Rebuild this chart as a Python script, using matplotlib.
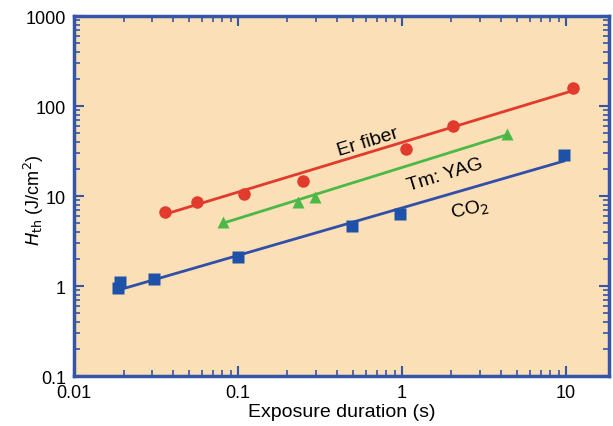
import numpy as np
import matplotlib.pyplot as plt
from matplotlib.ticker import LogLocator, NullFormatter, FixedLocator, FixedFormatter

# data (exposure duration in s, threshold in J/cm^2)
er_x = [0.036, 0.056, 0.109, 0.25, 1.05, 2.04, 11.0]
er_y = [6.6, 8.5, 10.5, 14.8, 33, 60, 160]
er_fit_x = [0.036, 10.3]
er_fit_y = [6.3, 143]

tm_x = [0.081, 0.232, 0.295, 4.37]
tm_y = [5.1, 8.6, 9.8, 49]
tm_fit_x = [0.081, 4.37]
tm_fit_y = [5.0, 48]

co2_x = [0.0185, 0.019, 0.0307, 0.1, 0.496, 0.97, 9.7]
co2_y = [0.95, 1.12, 1.2, 2.1, 4.6, 6.3, 28.6]
co2_fit_x = [0.0185, 9.7]
co2_fit_y = [0.9, 24.5]

x_ticks = [0.01, 0.1, 1, 10]
x_labels = ["0.01", "0.1", "1", "10"]
y_ticks = [0.1, 1, 10, 100, 1000]
y_labels = ["0.1", "1", "10", "100", "1000"]

spine_col = "#3556a6"
red = "#e23a2c"
green = "#4cb848"
blue = "#2f4fa8"
blue_mk = "#1d52a8"

plt.rcParams['font.family'] = ['Liberation Sans', 'DejaVu Sans']

fig = plt.figure(figsize=(6.13, 4.27), dpi=100)
ax = fig.add_axes([0.121, 0.117, 0.872, 0.843])
ax.set_facecolor("#fbdfb6")
ax.set_xscale("log")
ax.set_yscale("log")
ax.set_xlim(0.01, 18.2)
ax.set_ylim(0.1, 1000)

ax.plot(er_fit_x, er_fit_y, color=red, lw=2)
ax.plot(er_x, er_y, "o", color=red, ms=9, mec="none")
ax.plot(tm_fit_x, tm_fit_y, color=green, lw=2)
ax.plot(tm_x, tm_y, "^", color=green, ms=8, mec="none")
ax.plot(co2_fit_x, co2_fit_y, color=blue, lw=2)
ax.plot(co2_x, co2_y, "s", color=blue_mk, ms=9, mec="none")

ax.text(0.62, 40.8, "Er fiber", fontsize=14, rotation=17, ha="center", va="center")
ax.text(1.83, 17.5, "Tm: YAG", fontsize=14, rotation=17, ha="center", va="center")
ax.text(2.6, 7.2, "CO$_2$", fontsize=14, rotation=12, ha="center", va="center")

ax.xaxis.set_major_locator(FixedLocator(x_ticks))
ax.xaxis.set_major_formatter(FixedFormatter(x_labels))
ax.yaxis.set_major_locator(FixedLocator(y_ticks))
ax.yaxis.set_major_formatter(FixedFormatter(y_labels))
ax.xaxis.set_minor_locator(LogLocator(base=10, subs=np.arange(2, 10)))
ax.yaxis.set_minor_locator(LogLocator(base=10, subs=np.arange(2, 10)))
ax.xaxis.set_minor_formatter(NullFormatter())
ax.yaxis.set_minor_formatter(NullFormatter())

ax.tick_params(which="both", direction="in", top=True, right=True, color=spine_col,
               labelsize=13, pad=6)
ax.tick_params(which="major", length=7, width=1.5)
ax.tick_params(which="minor", length=4, width=1.2)
for s in ax.spines.values():
    s.set_color(spine_col)
    s.set_linewidth(2.5)

ax.set_xlabel("Exposure duration (s)", fontsize=14, labelpad=1)
ax.set_ylabel("$H_{\\mathrm{th}}$ (J/cm$^2$)", fontsize=13)
ax.yaxis.set_label_coords(-0.052, 0.49)

fig.savefig("out.png", dpi=100)
